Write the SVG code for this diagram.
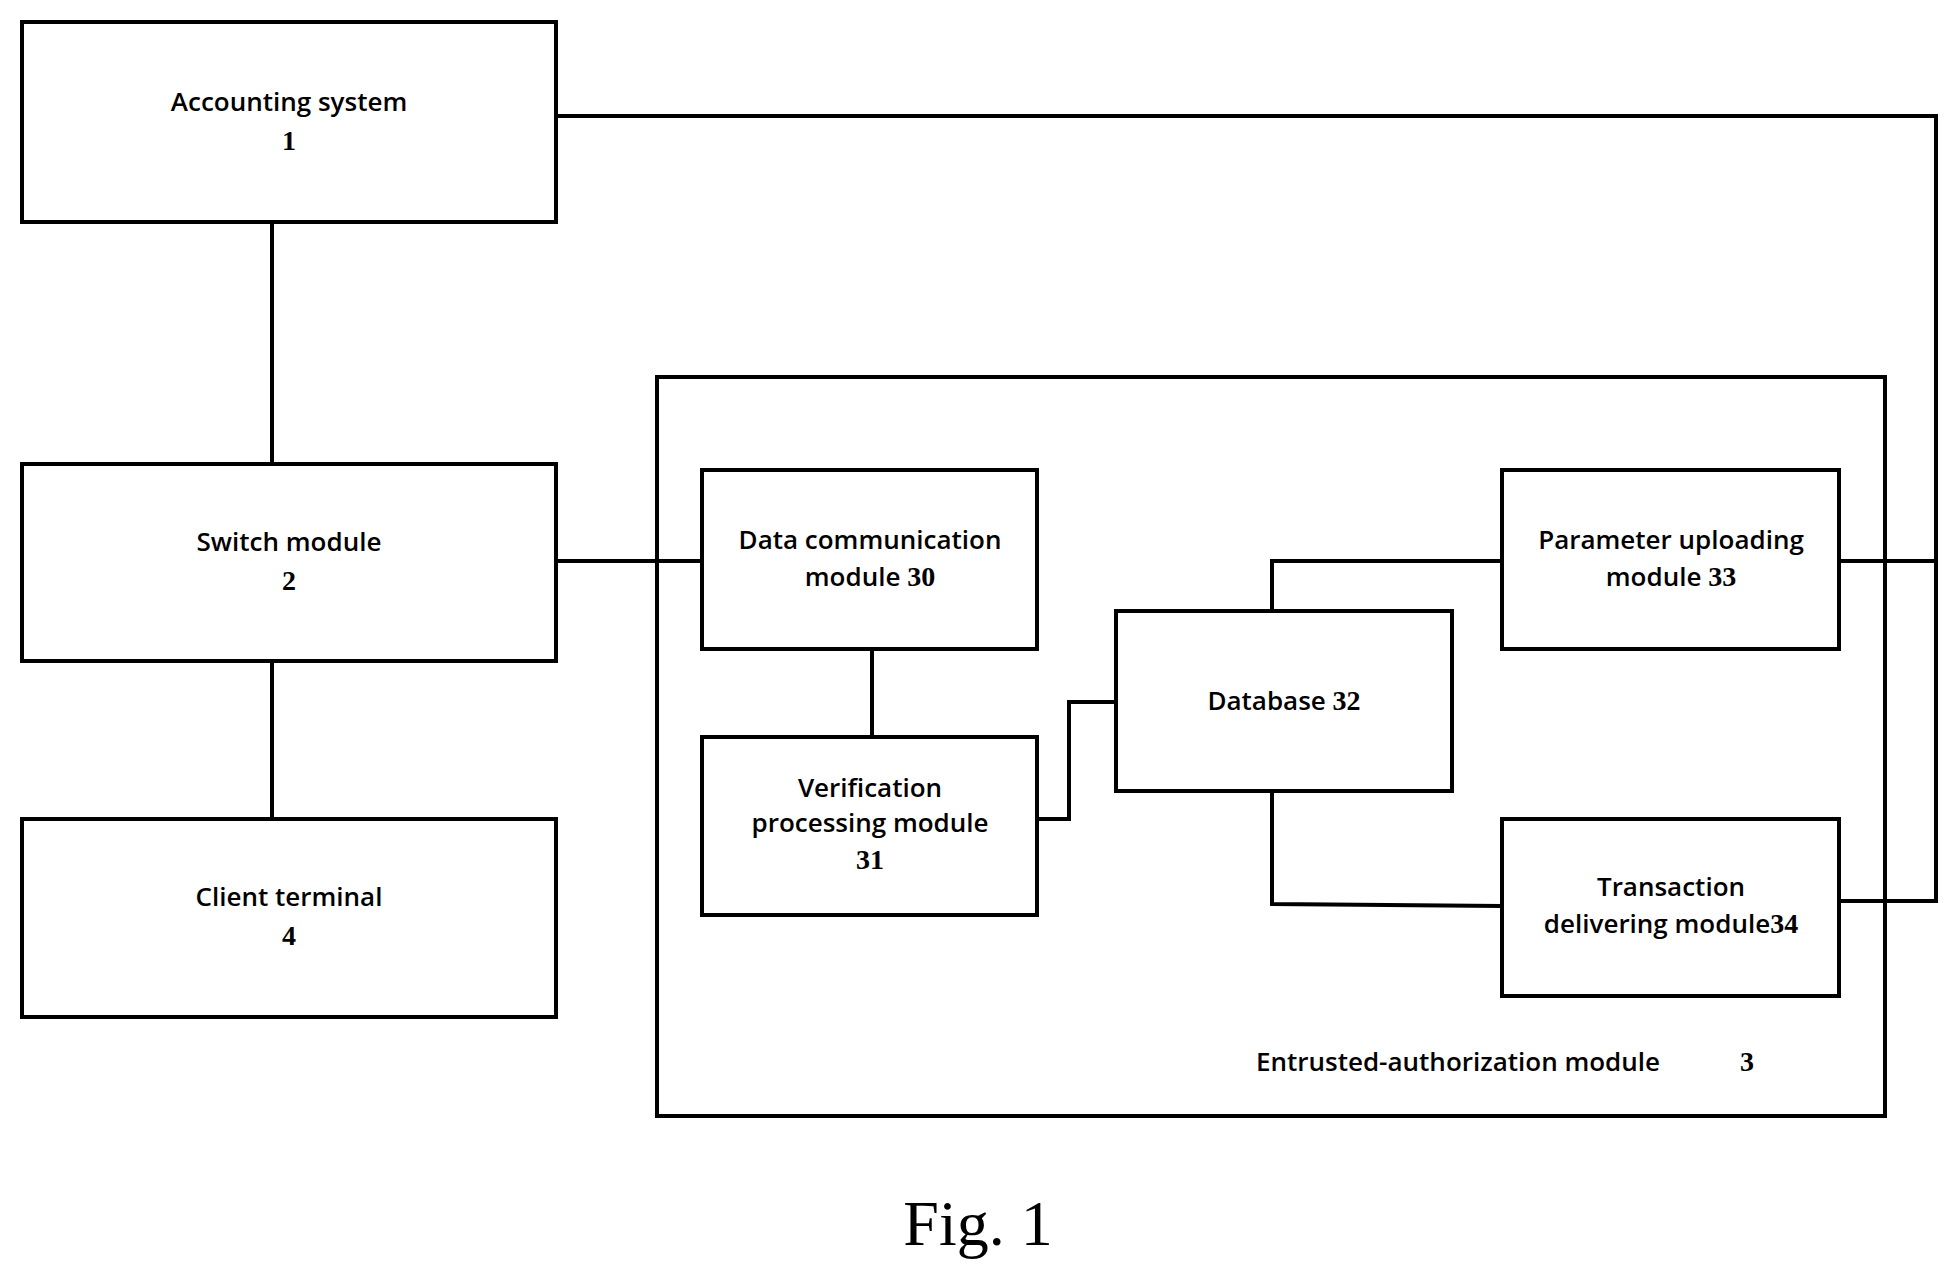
<svg xmlns="http://www.w3.org/2000/svg" width="1950" height="1273" viewBox="0 0 1950 1273">
<style>
rect{fill:#fff;stroke:#000;stroke-width:4}
#n3 rect{fill:none}
.c path{fill:none;stroke:#000;stroke-width:4}
text{font-family:"Open Sans","Liberation Sans",sans-serif;font-size:26px;font-weight:600;text-anchor:middle}
.n{font-family:"Liberation Serif",serif;font-weight:bold;font-size:28px}
</style>
<rect x="0" y="0" width="1950" height="1273" style="stroke:none"/>
<g id="n3"><rect x="657" y="377" width="1228" height="739"/><text x="1458" y="1071">Entrusted-authorization module</text><text class="n" x="1747" y="1071">3</text></g>
<g class="c">
<path d="M556 116H1936V901H1839"/>
<path d="M1839 561H1936"/>
<path d="M272 222V464"/>
<path d="M272 661V819"/>
<path d="M556 561H702"/>
<path d="M872 649V737"/>
<path d="M1037 819H1069V702H1116"/>
<path d="M1272 611V561H1502"/>
<path d="M1272 791V904L1502 906"/>
</g>
<g id="n1"><rect x="22" y="22" width="534" height="200"/><text x="289" y="111">Accounting system</text><text class="n" x="289" y="150">1</text></g>
<g id="n2"><rect x="22" y="464" width="534" height="197"/><text x="289" y="551">Switch module</text><text class="n" x="289" y="590">2</text></g>
<g id="n4"><rect x="22" y="819" width="534" height="198"/><text x="289" y="906">Client terminal</text><text class="n" x="289" y="945">4</text></g>
<g id="n30"><rect x="702" y="470" width="335" height="179"/><text x="870" y="549">Data communication</text><text x="870" y="586">module <tspan class="n">30</tspan></text></g>
<g id="n31"><rect x="702" y="737" width="335" height="178"/><text x="870" y="797">Verification</text><text x="870" y="832">processing module</text><text class="n" x="870" y="869">31</text></g>
<g id="n32"><rect x="1116" y="611" width="336" height="180"/><text x="1284" y="710">Database <tspan class="n">32</tspan></text></g>
<g id="n33"><rect x="1502" y="470" width="337" height="179"/><text x="1671" y="549">Parameter uploading</text><text x="1671" y="586">module <tspan class="n">33</tspan></text></g>
<g id="n34"><rect x="1502" y="819" width="337" height="177"/><text x="1671" y="896">Transaction</text><text x="1671" y="933">delivering module<tspan class="n">34</tspan></text></g>
<text x="978" y="1245" style="font-family:'Liberation Serif',serif;font-weight:normal;font-size:64px">Fig. 1</text>
</svg>
